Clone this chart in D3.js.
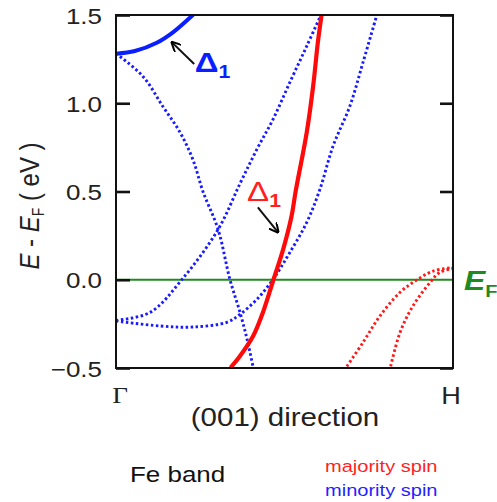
<!DOCTYPE html>
<html><head><meta charset="utf-8">
<script src="https://cdn.jsdelivr.net/npm/d3@7"></script>
<style>body{margin:0;background:#fff}svg{display:block}</style>
</head><body>
<script>
// Fe band structure along Γ–H, (001) direction. k runs from Γ (0) to H (1), energy in eV relative to E_F.
const kLabels = ["Γ", "H"];
const energyTicks = [-0.5, 0, 0.5, 1.0, 1.5];

// minority-spin Δ1 band (solid blue)
const minorityDelta1 = [[0,1.281],[0.056,1.296],[0.121,1.343],[0.169,1.402],[0.228,1.5]];
// minority-spin bands (dotted blue)
const minorityDown = [[0,1.282],[0.080,1.152],[0.139,0.982],[0.190,0.835],[0.228,0.682],[0.258,0.500],[0.303,0.285],[0.338,0.002],[0.368,-0.185],[0.389,-0.338],[0.407,-0.496]];
const minorityUpA = [[0,-0.230],[0.101,-0.185],[0.196,0.002],[0.303,0.285],[0.368,0.545],[0.418,0.739],[0.466,0.909],[0.516,1.119],[0.566,1.324],[0.608,1.5]];
const minorityUpB = [[0,-0.234],[0.131,-0.262],[0.228,-0.268],[0.329,-0.241],[0.368,-0.196],[0.418,-0.111],[0.466,0.002],[0.516,0.155],[0.566,0.325],[0.605,0.512],[0.644,0.757],[0.694,0.984],[0.733,1.232],[0.774,1.5]];
// majority-spin Δ1 band (solid red)
const majorityDelta1 = [[0.340,-0.498],[0.368,-0.432],[0.407,-0.319],[0.436,-0.185],[0.466,-0.007],[0.496,0.172],[0.521,0.361],[0.533,0.500],[0.566,0.835],[0.585,1.097],[0.599,1.345],[0.610,1.5]];
// majority-spin bands near H (dotted red)
const majorityH1 = [[0.685,-0.491],[0.733,-0.355],[0.783,-0.206],[0.843,-0.071],[0.892,-0.002],[0.941,0.049],[1.0,0.070]];
const majorityH2 = [[0.815,-0.491],[0.843,-0.298],[0.881,-0.149],[0.932,-0.015],[0.961,0.042],[1.0,0.064]];

const W = 497, H = 502;
const plot = {left:116, right:453, top:15, bottom:368};
const sx = 1.18; // horizontal text stretch

const svg = d3.select("body").append("svg").attr("width", W).attr("height", H)
  .style("font-family", "Arial, 'Liberation Sans', sans-serif");

const x = d3.scaleLinear().domain([0,1]).range([plot.left, plot.right]);
const y = d3.scaleLinear().domain([-0.5,1.5]).range([plot.bottom, plot.top]);

svg.append("defs").append("clipPath").attr("id","clip")
  .append("rect").attr("x",plot.left).attr("y",plot.top)
  .attr("width",plot.right-plot.left).attr("height",plot.bottom-plot.top);
const m = svg.select("defs").append("marker").attr("id","arrow")
  .attr("viewBox","0 0 10 10").attr("refX",9).attr("refY",5)
  .attr("markerWidth",5).attr("markerHeight",5).attr("orient","auto-start-reverse")
  .attr("markerUnits","strokeWidth");
m.append("path").attr("d","M0,0 L10,5 L0,10").attr("fill","none").attr("stroke","#000").attr("stroke-width",2);

const g = svg.append("g").attr("clip-path","url(#clip)");
const line = d3.line().x(d=>x(d[0])).y(d=>y(d[1])).curve(d3.curveCatmullRom.alpha(0.5));

// Fermi level
g.append("line").attr("x1",x(0)).attr("x2",x(1)).attr("y1",y(0)).attr("y2",y(0))
  .attr("stroke","#1f8a1f").attr("stroke-width",2);

const dotted = [
  [minorityDown,"#1a1aff"],[minorityUpA,"#1a1aff"],[minorityUpB,"#1a1aff"],
  [majorityH1,"#ff1a1a"],[majorityH2,"#ff1a1a"]
];
dotted.forEach(([d,c]) => g.append("path").attr("d",line(d)).attr("fill","none")
  .attr("stroke",c).attr("stroke-width",2.9).attr("stroke-dasharray","2.5,2.5"));

g.append("path").attr("d",line(minorityDelta1)).attr("fill","none")
  .attr("stroke","#0a1fff").attr("stroke-width",4).attr("stroke-linecap","round");
g.append("path").attr("d",line(majorityDelta1)).attr("fill","none")
  .attr("stroke","#ff0a0a").attr("stroke-width",4.2);

// frame and ticks
svg.append("rect").attr("x",plot.left).attr("y",plot.top)
  .attr("width",plot.right-plot.left).attr("height",plot.bottom-plot.top)
  .attr("fill","none").attr("stroke","#111").attr("stroke-width",2);

const left = svg.append("g").attr("transform",`translate(${plot.left},0)`)
  .call(d3.axisLeft(y).tickValues(energyTicks).tickSize(-14).tickPadding(0).tickFormat(d3.format(".1f")));
left.select(".domain").remove();
left.selectAll(".tick line").attr("stroke","#111").attr("stroke-width",2.6);
left.selectAll(".tick text").remove();
left.selectAll(".tick").append("text")
  .attr("transform",`translate(-14,8) scale(${sx},1)`)
  .attr("text-anchor","end").attr("fill","#222").attr("font-size",22)
  .text(d=>d3.format(".1f")(d));

const right = svg.append("g").attr("transform",`translate(${plot.right},0)`)
  .call(d3.axisRight(y).tickValues(energyTicks.filter(v=>v!==0)).tickSize(-13).tickFormat(""));
right.select(".domain").remove();
right.selectAll(".tick line").attr("stroke","#111").attr("stroke-width",2.6);

function stretchText(px, py, anchor, size, color) {
  return svg.append("text").attr("transform",`translate(${px},${py}) scale(${sx},1)`)
    .attr("text-anchor",anchor).attr("font-size",size).attr("fill",color);
}

// k-point labels
svg.append("text").attr("transform",`translate(${x(0)+4},403) scale(${sx},1)`)
  .attr("text-anchor","middle").attr("font-size",23).attr("fill","#222")
  .attr("font-family","'Liberation Serif','DejaVu Serif',serif").text(kLabels[0]);
stretchText(x(1)-2,404,"middle",23,"#222").text(kLabels[1]);
stretchText((plot.left+plot.right)/2+0.5,426,"middle",25,"#222").text("(001) direction");

// y-axis title
const yt = svg.append("text").attr("transform",`translate(39,206) rotate(-90) scale(1,${sx})`)
  .attr("text-anchor","middle").attr("font-size",24).attr("fill","#222");
yt.append("tspan").attr("font-style","italic").text("E");
yt.append("tspan").text(" - ");
yt.append("tspan").attr("font-style","italic").text("E");
yt.append("tspan").attr("font-size",14).attr("dy",4).text("F");
yt.append("tspan").attr("dy",-4).text(" ( eV )");

// Fermi level label
const ef = stretchText(plot.right+11,290,"start",27,"#1f8a1f")
  .attr("font-weight","bold");
ef.append("tspan").attr("font-style","italic").text("E");
ef.append("tspan").attr("font-size",17).attr("dy",7).text("F");

// Δ1 annotations
const notes = [
  {label:[0.234,1.175], tail:[0.232,1.222], head:[0.166,1.345], color:"#0a1fff", weight:"bold"},
  {label:[0.389,0.444], tail:[0.421,0.410], head:[0.481,0.269], color:"#ff1f1f", weight:"normal"}
];
notes.forEach(n => {
  const t = stretchText(x(n.label[0]), y(n.label[1]), "start", 28, n.color).attr("font-weight",n.weight);
  t.append("tspan").text("Δ");
  t.append("tspan").attr("font-size",18).attr("font-weight","bold").attr("dy",6).text("1");
  svg.append("line").attr("x1",x(n.tail[0])).attr("y1",y(n.tail[1]))
    .attr("x2",x(n.head[0])).attr("y2",y(n.head[1]))
    .attr("stroke","#111").attr("stroke-width",2).attr("marker-end","url(#arrow)");
});

// captions
stretchText(130,482,"start",22,"#111").text("Fe band");
stretchText(325,472,"start",17,"#ff1f1f").text("majority spin");
stretchText(325,496,"start",17,"#1f1fff").text("minority spin");
</script>
</body></html>
